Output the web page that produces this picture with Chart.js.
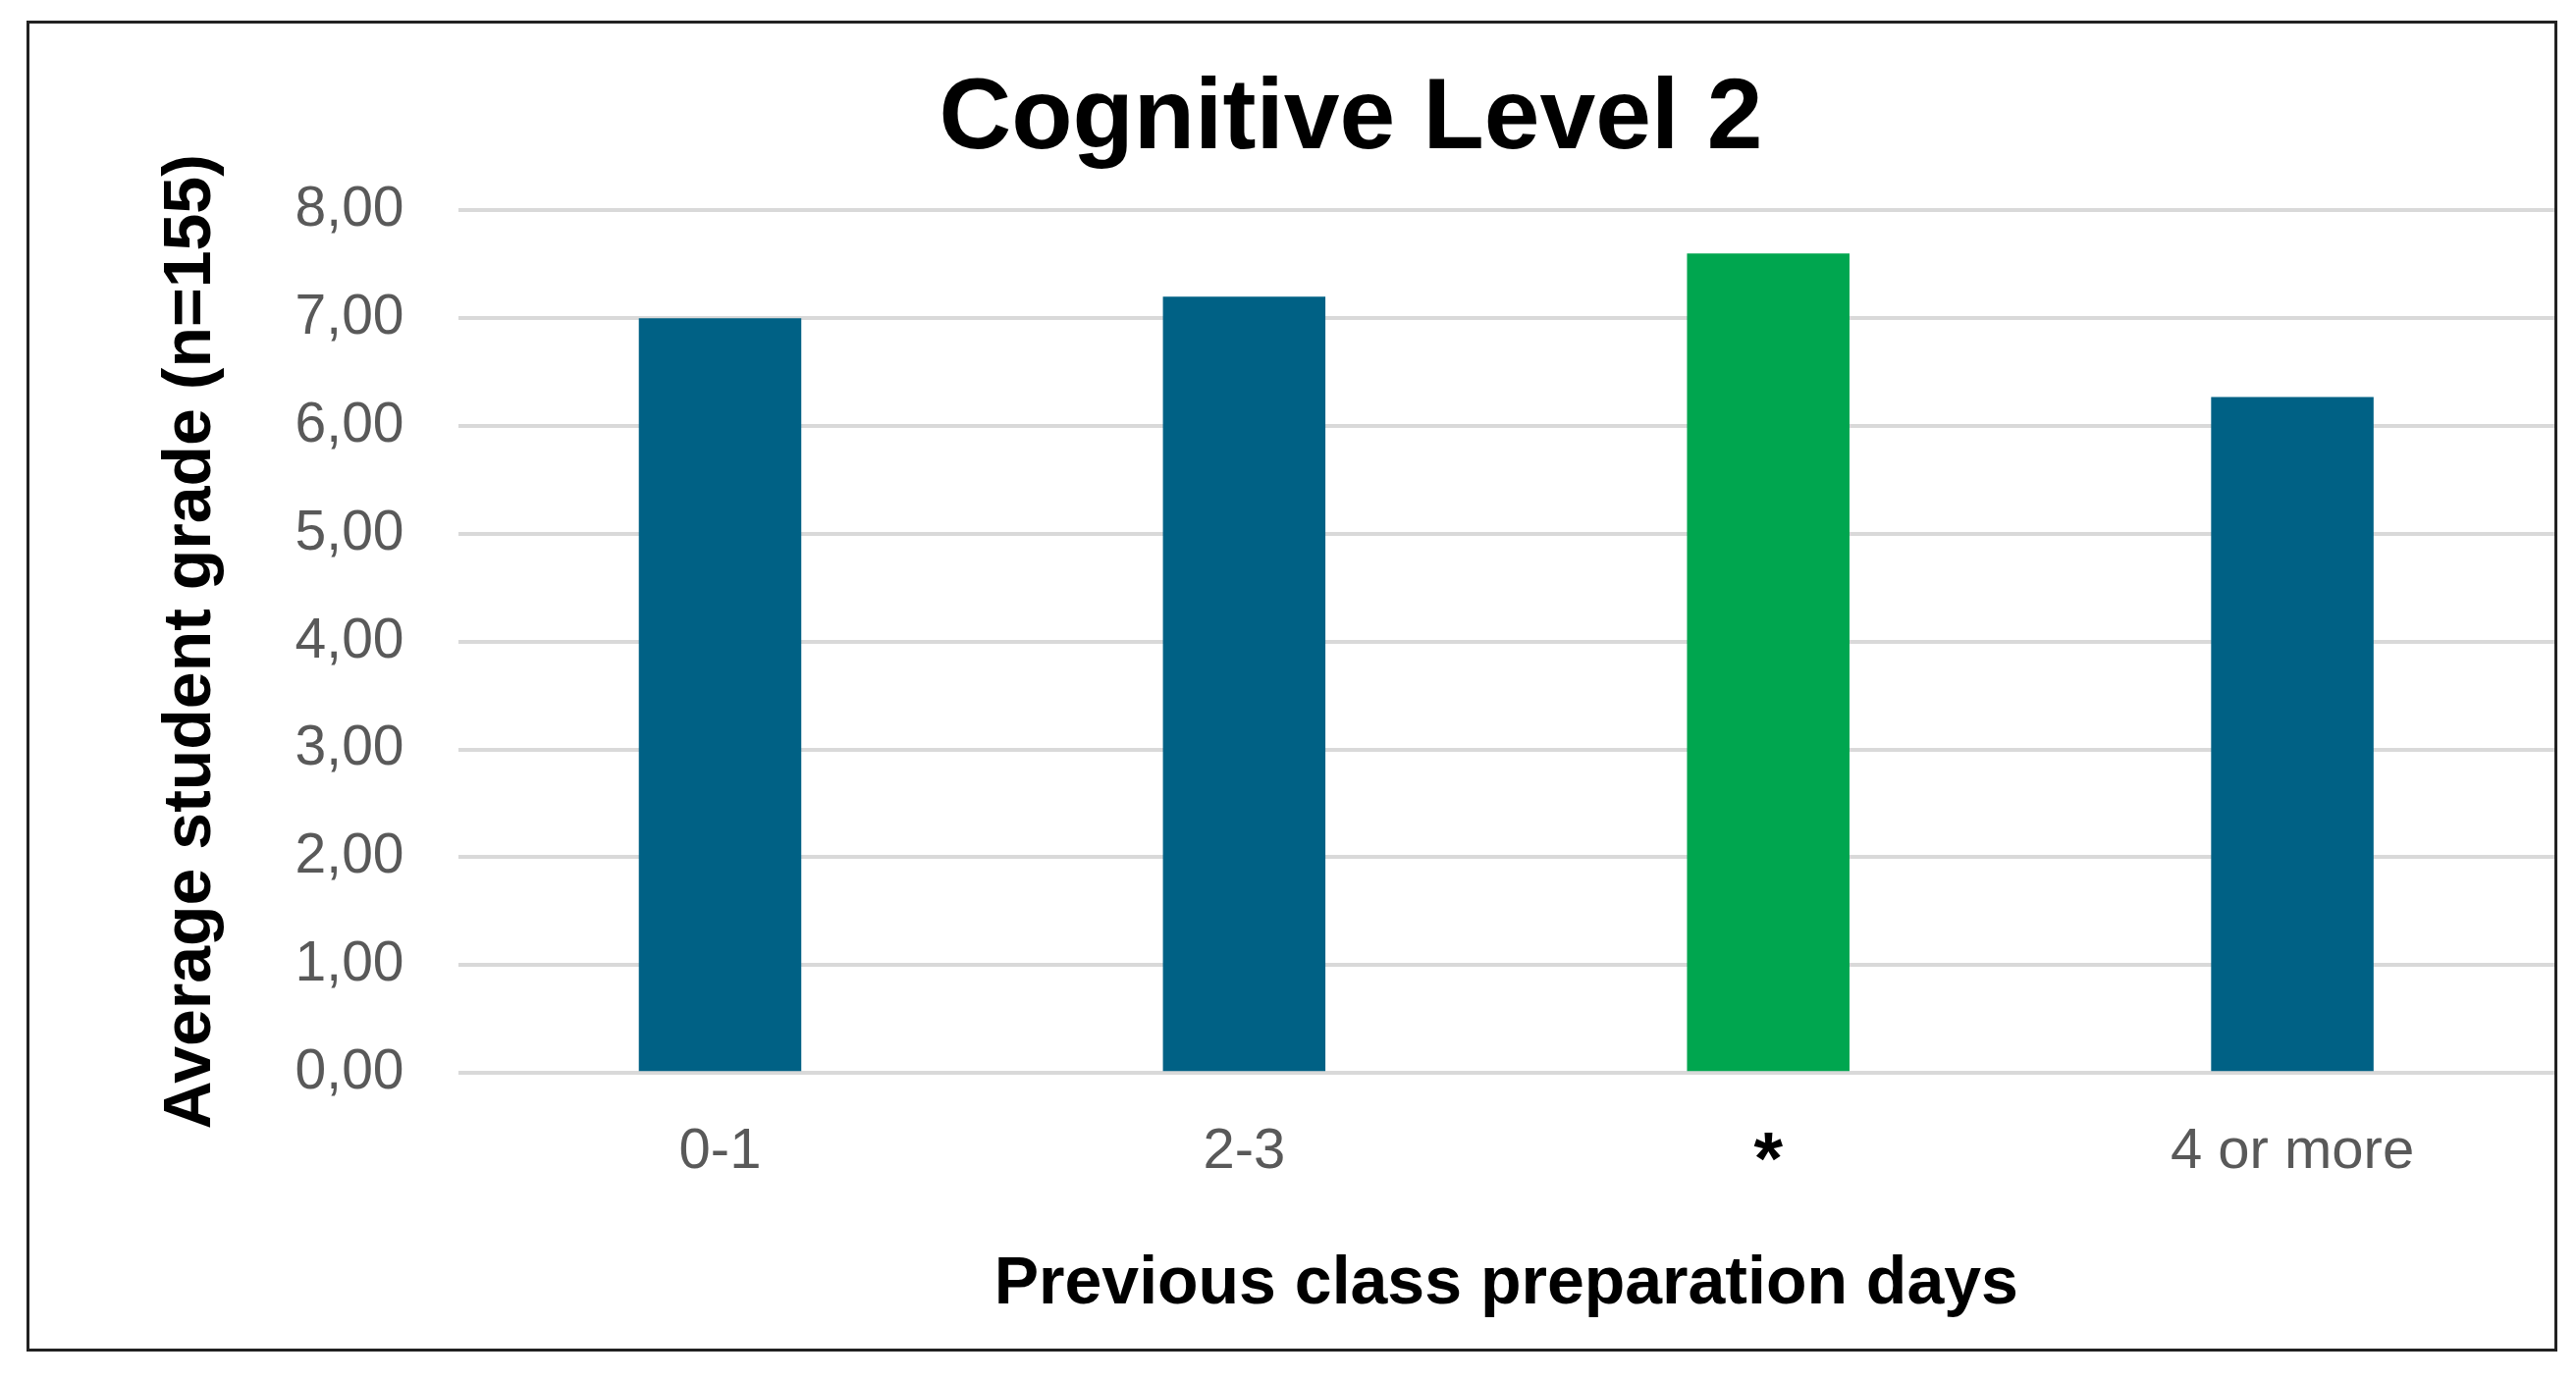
<!DOCTYPE html>
<html>
<head>
<meta charset="utf-8">
<script src="https://cdn.jsdelivr.net/npm/chart.js@4/dist/chart.umd.min.js"></script>
<style>
  html, body { margin: 0; padding: 0; background: #fff; }
  #frame {
    position: absolute; left: 27px; top: 21px;
    width: 2572px; height: 1350px;
    border: 3px solid #222; box-sizing: content-box;
  }
  canvas { display: block; }
</style>
</head>
<body>
<div id="frame"><canvas id="chart"></canvas></div>
<script>
const categories = ['0-1', '2-3', '*', '4 or more'];
const grades = [7.0, 7.2, 7.6, 6.27];
const barColors = ['#006185', '#006185', '#00A64F', '#006185'];
const yTicks = [0, 1, 2, 3, 4, 5, 6, 7, 8];

const FONT = 'Arial, "Liberation Sans", sans-serif';

const ctx = document.getElementById('chart').getContext('2d');
new Chart(ctx, {
    type: 'bar',
    data: {
        labels: categories,
        datasets: [{
            data: grades,
            backgroundColor: barColors,
            borderWidth: 0,
            barPercentage: 0.31,
            categoryPercentage: 1.0
        }]
    },
    options: {
        responsive: true,
        maintainAspectRatio: false,
        animation: false,
        devicePixelRatio: 1,
        layout: { padding: { left: 120, right: 0, top: 0, bottom: 20 } },
        plugins: {
            legend: { display: false },
            tooltip: { enabled: false },
            title: {
                display: true,
                text: 'Cognitive Level 2',
                color: '#000',
                font: { family: FONT, size: 102, weight: 'bold' },
                padding: { top: 38, bottom: 30 }
            }
        },
        scales: {
            x: {
                grid: { display: false },
                border: { display: false },
                ticks: {
                    padding: 38,
                    color: (c) => categories[c.index] === '*' ? '#000' : '#595959',
                    font: (c) => categories[c.index] === '*'
                        ? { family: FONT, size: 76, weight: 'bold' }
                        : { family: FONT, size: 58 }
                },
                title: {
                    display: true,
                    text: 'Previous class preparation days',
                    color: '#000',
                    font: { family: FONT, size: 68, weight: 'bold' },
                    padding: { top: 0 }
                }
            },
            y: {
                min: 0, max: 8,
                afterBuildTicks: (axis) => { axis.ticks = yTicks.map(v => ({ value: v })); },
                grid: { color: '#d9d9d9', lineWidth: 4, drawTicks: false },
                border: { display: false },
                ticks: {
                    padding: 55,
                    color: '#595959',
                    font: { family: FONT, size: 57 },
                    callback: (v) => Number(v).toFixed(2).replace('.', ',')
                },
                title: {
                    display: true,
                    text: 'Average student grade (n=155)',
                    color: '#000',
                    font: { family: FONT, size: 68, weight: 'bold' },
                    padding: { bottom: 10 }
                }
            }
        }
    }
});
</script>
</body>
</html>
